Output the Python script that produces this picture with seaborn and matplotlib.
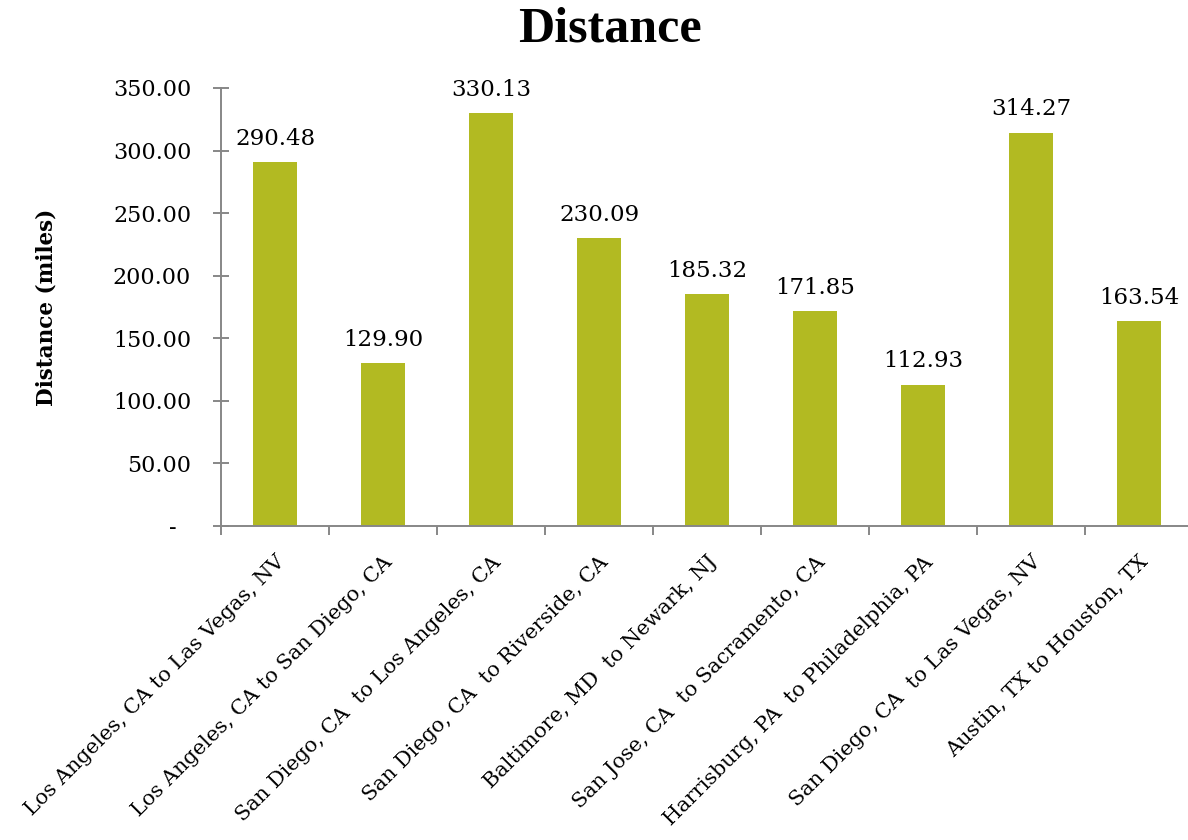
import matplotlib
matplotlib.use("Agg")
import matplotlib.pyplot as plt
from matplotlib.ticker import FuncFormatter, MultipleLocator
import numpy as np
import pandas as pd
import seaborn as sns

# Route names and driving distances (miles)
routes = [
    "Los Angeles, CA to Las Vegas, NV",
    "Los Angeles, CA to San Diego, CA",
    "San Diego, CA  to Los Angeles, CA",
    "San Diego, CA  to Riverside, CA",
    "Baltimore, MD  to Newark, NJ",
    "San Jose, CA  to Sacramento, CA",
    "Harrisburg, PA  to Philadelphia, PA",
    "San Diego, CA  to Las Vegas, NV",
    "Austin, TX to Houston, TX",
]
miles = [290.48, 129.90, 330.13, 230.09, 185.32, 171.85, 112.93, 314.27, 163.54]

title_text = "Distance"
ylabel_text = "Distance (miles)"

BAR_COLOR = "#B2BA22"
AXIS_COLOR = "#878787"
TEXT_COLOR = "#000000"
BODY_FONT = "DejaVu Serif"

sns.set_style("white")
plt.rcParams["font.family"] = [BODY_FONT]
plt.rcParams["text.color"] = TEXT_COLOR
plt.rcParams["axes.labelcolor"] = TEXT_COLOR
plt.rcParams["xtick.color"] = TEXT_COLOR
plt.rcParams["ytick.color"] = TEXT_COLOR

df = pd.DataFrame({"route": routes, "miles": miles})

fig = plt.figure(figsize=(11.88, 8.40), dpi=100)
ax = fig.add_axes([221 / 1188, 1 - 526 / 840, 972 / 1188, 438 / 840])

sns.barplot(data=df, x="route", y="miles", color=BAR_COLOR, saturation=1,
            width=0.4, ax=ax, edgecolor="none", linewidth=0)

ax.set_xlim(-0.5, len(routes) - 0.5)
ax.set_ylim(0, 350)

# Spines
for side in ("top", "right"):
    ax.spines[side].set_visible(False)
for side in ("left", "bottom"):
    ax.spines[side].set_color(AXIS_COLOR)
    ax.spines[side].set_linewidth(1.4)

# Y axis: ticks every 50, zero shown as a dash
ax.yaxis.set_major_locator(MultipleLocator(50))
ax.yaxis.set_major_formatter(FuncFormatter(lambda v, _: "-  " if abs(v) < 1e-9 else f"{v:.2f}"))
ax.tick_params(axis="y", which="major", direction="inout", length=11, width=1.4,
               color=AXIS_COLOR, labelcolor=TEXT_COLOR, labelsize=16, pad=16, left=True)

# X axis: tick marks between categories, labels at category centres
ax.set_xticks(np.arange(-0.5, len(routes), 1), minor=True)
ax.tick_params(axis="x", which="minor", direction="out", length=6.5, width=1.4,
               color=AXIS_COLOR, bottom=True)
ax.tick_params(axis="x", which="major", length=0, pad=19, labelsize=15,
               labelcolor=TEXT_COLOR)
ax.set_xticks(range(len(routes)))
ax.set_xticklabels(routes, rotation=45, ha="right", va="top", rotation_mode="anchor")

ax.set_xlabel("")
ax.set_ylabel(ylabel_text, fontsize=15.5, fontweight="bold", color=TEXT_COLOR)
ax.yaxis.set_label_coords(-0.168, 0.5)

# Value labels above each bar
for i, v in enumerate(miles):
    ax.annotate(f"{v:.2f}", xy=(i, v), xytext=(0, 12.5), textcoords="offset points",
                ha="center", va="baseline", fontsize=16.5, color=TEXT_COLOR)

fig.text(610 / 1188, 1 - 30 / 840, title_text, ha="center", va="center",
         fontsize=36, fontweight="bold", family=["Liberation Serif"], color=TEXT_COLOR)

fig.savefig("out.png", dpi=100, facecolor="white")
